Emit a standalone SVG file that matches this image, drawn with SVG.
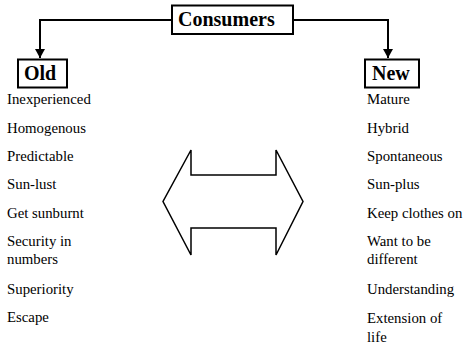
<svg xmlns="http://www.w3.org/2000/svg" width="468" height="345" viewBox="0 0 468 345">
<defs>
<marker id="ah" markerWidth="11" markerHeight="10" refX="10" refY="5.5" orient="auto" markerUnits="userSpaceOnUse" viewBox="0 0 10 11">
<path d="M0,0 L10,5.5 L0,11 Z" fill="#000"/>
</marker>
</defs>
<style>
.box{fill:#fff;stroke:#000;stroke-width:2}
.hd{font-weight:bold;font-size:20px;fill:#000}
.it{font-size:14.8px;fill:#000}
.conn{fill:none;stroke:#000;stroke-width:2}
</style>
<rect width="468" height="345" fill="#fff"/>
<g id="connectors">
<path class="conn" d="M172,20 H40 V58" marker-end="url(#ah)"/>
<path class="conn" d="M293,20 H388 V58" marker-end="url(#ah)"/>
</g>
<g font-family="Liberation Serif, DejaVu Serif, serif">
<g id="consumers">
<rect class="box" x="172" y="5.5" width="121" height="28.5"/>
<text class="hd" x="178" y="26" font-size="19.5">Consumers</text>
</g>
<g id="old">
<rect class="box" x="18" y="59.5" width="49" height="28"/>
<text class="hd" x="24" y="80">Old</text>
</g>
<g id="new">
<rect class="box" x="365" y="59.5" width="54" height="28"/>
<text class="hd" x="372" y="80">New</text>
</g>
<g id="old-list" class="it">
<text x="7" y="104">Inexperienced</text>
<text x="7" y="133">Homogenous</text>
<text x="7" y="161">Predictable</text>
<text x="7" y="189">Sun-lust</text>
<text x="7" y="218">Get sunburnt</text>
<text x="7" y="246">Security in</text>
<text x="7" y="264">numbers</text>
<text x="7" y="294">Superiority</text>
<text x="7" y="322">Escape</text>
</g>
<g id="new-list" class="it">
<text x="367" y="104">Mature</text>
<text x="367" y="133">Hybrid</text>
<text x="367" y="161">Spontaneous</text>
<text x="367" y="189">Sun-plus</text>
<text x="367" y="218">Keep clothes on</text>
<text x="367" y="246">Want to be</text>
<text x="367" y="264">different</text>
<text x="367" y="294">Understanding</text>
<text x="367" y="323">Extension of</text>
<text x="367" y="342">life</text>
</g>
</g>
<g id="double-arrow">
<polygon points="191,150 191,175 276,175 276,150 303,201.5 276,255 276,228 191,228 191,255 163,201.5" fill="#fff" stroke="#000" stroke-width="1.5"/>
</g>
</svg>
